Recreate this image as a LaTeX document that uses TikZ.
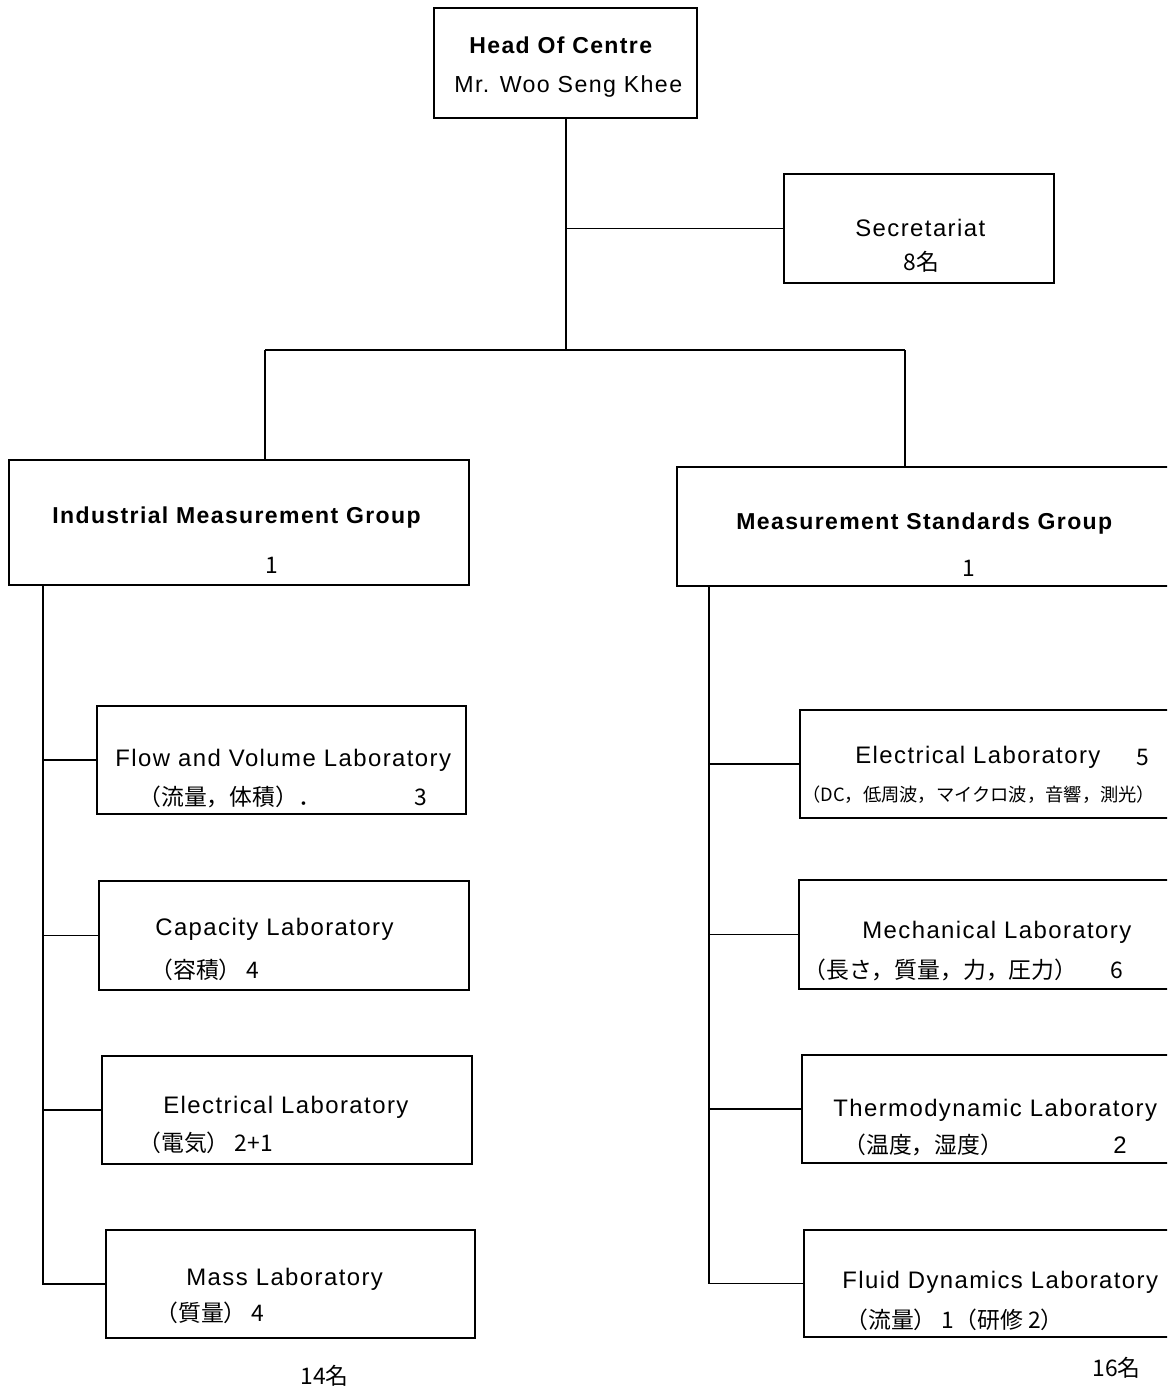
\documentclass[tikz,border=0pt]{standalone}
\usepackage{fontspec}
\setmainfont[LetterSpace=6]{Liberation Sans}
\newfontfamily\jp{Noto Sans CJK JP}

\begin{document}
\begin{tikzpicture}[x=0.02cm, y=-0.02cm]
    % 样式
    \tikzset{
        unit/.style={rectangle, draw, line width=1.1pt, inner sep=0pt},
        title/.style={anchor=west, inner sep=0pt, font=\fontsize{13.1}{15}\selectfont\bfseries},
        lab/.style={anchor=west, inner sep=0pt, font=\fontsize{13.6}{16}\selectfont},
        hand/.style={anchor=west, inner sep=0pt, font=\fontsize{13}{15}\selectfont\jp},
        link/.style={line width=1.1pt},
    }

    % 页面范围
    \clip (0,0) rectangle (1167,1386);

    % 顶层方框
    \node[unit, minimum width=5.26cm, minimum height=2.2cm] (head) at (565.5,63) {};
    \node[unit, minimum width=5.4cm, minimum height=2.18cm] (sec) at (919,228.5) {};
    \node[unit, minimum width=9.2cm, minimum height=2.5cm] (img) at (239,522.5) {};
    \node[unit, minimum width=9.96cm, minimum height=2.38cm] (msg) at (926,526.5) {};

    % 左侧实验室
    \node[unit, minimum width=7.38cm, minimum height=2.16cm] (flow) at (281.5,760) {};
    \node[unit, minimum width=7.4cm, minimum height=2.18cm] (cap) at (284,935.5) {};
    \node[unit, minimum width=7.4cm, minimum height=2.16cm] (lelec) at (287,1110) {};
    \node[unit, minimum width=7.38cm, minimum height=2.16cm] (mass) at (290.5,1284) {};

    % 右侧实验室
    \node[unit, minimum width=7.5cm, minimum height=2.16cm] (relec) at (987.5,764) {};
    \node[unit, minimum width=7.52cm, minimum height=2.18cm] (mech) at (987,934.5) {};
    \node[unit, minimum width=7.46cm, minimum height=2.16cm] (thermo) at (988.5,1109) {};
    \node[unit, minimum width=7.42cm, minimum height=2.14cm] (fluid) at (989.5,1283.5) {};

    % 文字
    \node[title] (headt) at (469,45) {Head Of Centre};
    \node[lab, font=\fontsize{13.2}{16}\selectfont] (headn) at (454,87) {Mr. Woo Seng Khee};
    \node[lab] (sect) at (855,228) {Secretariat};
    \node[hand] (secn) at (903,262) {8名};
    \node[title] (imgt) at (52,518) {Industrial Measurement Group};
    \node[hand] (imgn) at (265,565) {1};
    \node[title] (msgt) at (736,524) {Measurement Standards Group};
    \node[hand] (msgn) at (962,568) {1};

    \node[lab] (flowt) at (115,760) {Flow and Volume Laboratory};
    \node[hand] (flowh) at (138,797) {（流量，体積）．};
    \node[hand] (flown) at (414,797) {3};
    \node[lab] (capt) at (155,929) {Capacity Laboratory};
    \node[hand] (caph) at (150,970) {（容積）\ 4};
    \node[lab] (lelect) at (163,1107) {Electrical Laboratory};
    \node[hand] (lelech) at (138,1143) {（電気）\ 2+1};
    \node[lab] (masst) at (186,1279) {Mass Laboratory};
    \node[hand] (massh) at (155,1313) {（質量）\ 4};

    \node[lab] (relect) at (855,757) {Electrical Laboratory};
    \node[hand] (relecn) at (1136,757) {5};
    \node[hand, font=\fontsize{10.4}{12}\selectfont\jp] (relech) at (802,795) {（DC，低周波，マイクロ波，音響，測光）};
    \node[lab] (mecht) at (862,932) {Mechanical Laboratory};
    \node[hand] (mechh) at (803,970) {（長さ，質量，力，圧力）};
    \node[hand] (mechn) at (1110,970) {6};
    \node[lab] (thermot) at (833,1110) {Thermodynamic Laboratory};
    \node[hand] (thermoh) at (843,1145) {（温度，湿度）};
    \node[lab] (thermon) at (1113,1145) {2};
    \node[lab] (fluidt) at (842,1282) {Fluid Dynamics Laboratory};
    \node[hand] (fluidh) at (845,1320) {（流量）\ 1（研修 2）};

    \node[hand] (lsum) at (300,1376) {14名};
    \node[hand] (rsum) at (1092,1368) {16名};

    % 连接线
    \coordinate (hub) at (566,350);
    \coordinate (lhub) at (265,350);
    \coordinate (rhub) at (905,350);
    \coordinate (lsp) at (43,585);
    \coordinate (rsp) at (709,586);

    \draw[link] (head.south -| hub) -- (hub);
    \draw[link] (hub |- sec.west) -- (sec.west);
    \draw[link] (lhub) -- (rhub);
    \draw[link] (lhub) -- (lhub |- img.north);
    \draw[link] (rhub) -- (rhub |- msg.north);

    \draw[link] (lsp) |- (mass.west);
    \foreach \b in {flow,cap,lelec} {
        \draw[link] (lsp |- \b.west) -- (\b.west);
    }
    \draw[link] (rsp) |- (fluid.west);
    \foreach \b in {relec,mech,thermo} {
        \draw[link] (rsp |- \b.west) -- (\b.west);
    }
\end{tikzpicture}
\end{document}
